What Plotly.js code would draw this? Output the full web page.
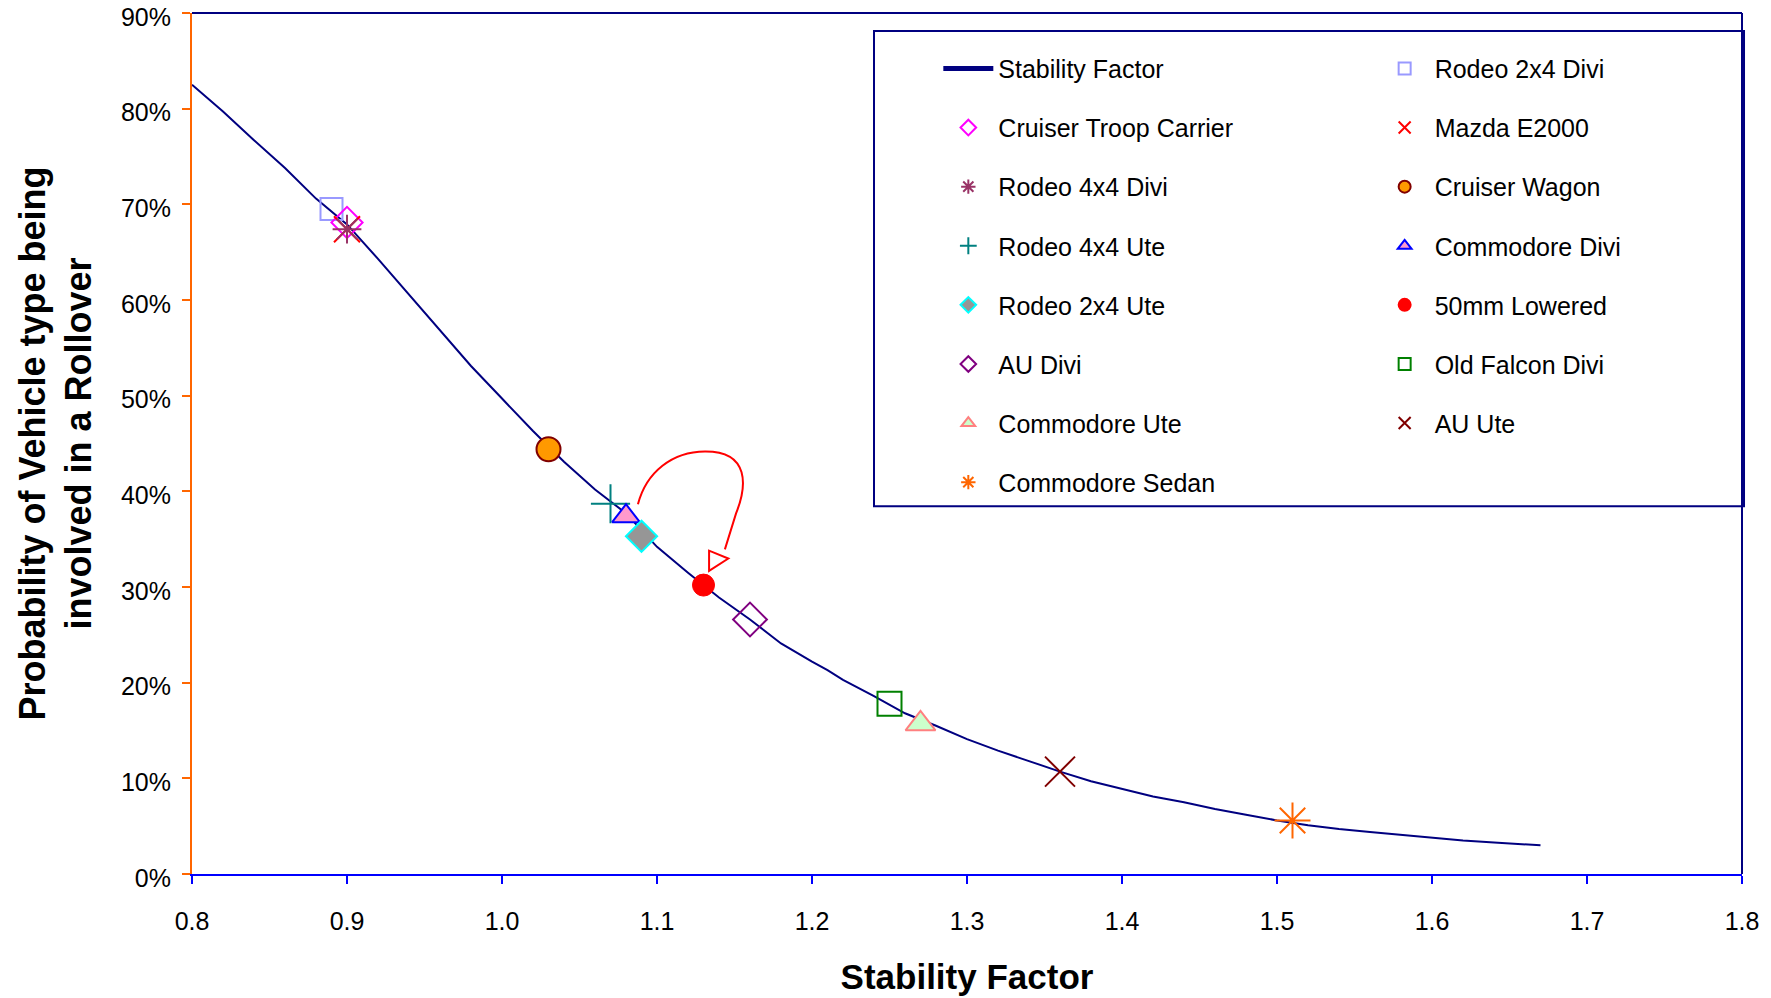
<!DOCTYPE html>
<html>
<head>
<meta charset="utf-8">
<script src="https://cdn.plot.ly/plotly-3.0.1.min.js"></script>
<style>html,body{margin:0;padding:0;background:#fff;}#chart{width:1771px;height:998px;}</style>
</head>
<body>
<div id="chart"></div>
<script>
// Stability factor curve
const curveX = [0.80,0.82,0.84,0.86,0.88,0.90,0.92,0.94,0.96,0.98,1.00,1.02,1.04,1.06,1.08,1.10,1.12,1.14,1.16,1.18,1.20,1.21,1.22,1.24,1.26,1.28,1.30,1.32,1.34,1.36,1.38,1.40,1.42,1.44,1.46,1.48,1.50,1.52,1.54,1.56,1.58,1.60,1.62,1.64,1.66,1.67];
const curveY = [0.825,0.797,0.767,0.738,0.706,0.679,0.643,0.606,0.569,0.531,0.497,0.463,0.431,0.402,0.377,0.342,0.315,0.289,0.266,0.241,0.222,0.213,0.203,0.186,0.168,0.155,0.141,0.129,0.118,0.107,0.097,0.089,0.081,0.075,0.068,0.062,0.056,0.051,0.047,0.044,0.041,0.038,0.035,0.033,0.031,0.030];

// Y tick values
const yTicks = [0, 0.1, 0.2, 0.3, 0.4, 0.5, 0.6, 0.7, 0.8, 0.9];
const yTickText = ["0%","10%","20%","30%","40%","50%","60%","70%","80%","90%"];

// Vehicles
const vehicleNames = ["Rodeo 2x4 Divi","Cruiser Troop Carrier","Mazda E2000","Rodeo 4x4 Divi","Cruiser Wagon","Rodeo 4x4 Ute","Commodore Divi","Rodeo 2x4 Ute","50mm Lowered","AU Divi","Old Falcon Divi","Commodore Ute","AU Ute","Commodore Sedan"];
const vehicleSF   = [0.89, 0.90, 0.90, 0.90, 1.03, 1.07, 1.08, 1.09, 1.13, 1.16, 1.25, 1.27, 1.36, 1.51];
const vehicleProb = [0.695,0.681,0.674,0.674,0.444,0.387,0.374,0.353,0.302,0.266,0.178,0.157,0.107,0.056];

// Red hand-drawn arrow: start, two cubic segments (control points), end of tail
const arrowX = [1.0877, 1.093, 1.110, 1.1314, 1.160, 1.158, 1.151, 1.1438];
const arrowY = [0.3864, 0.420, 0.442, 0.4417, 0.4417, 0.405, 0.377, 0.3393];
const headX = [1.1336, 1.1336, 1.146];
const headY = [0.3169, 0.338, 0.3298];

const styles = {
  "Rodeo 2x4 Divi":        {symbol:"square-open", size:22, color:"#9999FF", line:{color:"#9999FF", width:2}, legend:"legend2"},
  "Cruiser Troop Carrier": {symbol:"diamond-open", size:24, color:"#FF00FF", line:{color:"#FF00FF", width:2}, legend:"legend"},
  "Mazda E2000":           {symbol:"x-thin-open", size:26, color:"#FF0000", line:{color:"#FF0000", width:2}, legend:"legend2"},
  "Rodeo 4x4 Divi":        {symbol:"asterisk-open", size:24, color:"#993366", line:{color:"#993366", width:2}, legend:"legend"},
  "Cruiser Wagon":         {symbol:"circle", size:24, color:"#FF9900", line:{color:"#800000", width:2}, legend:"legend2"},
  "Rodeo 4x4 Ute":         {symbol:"cross-thin-open", size:28, color:"#008080", line:{color:"#008080", width:2}, legend:"legend"},
  "Commodore Divi":        {symbol:"triangle-up", size:24, color:"#FF99CC", line:{color:"#0000FF", width:2}, legend:"legend2"},
  "Rodeo 2x4 Ute":         {symbol:"diamond", size:24, color:"#969696", line:{color:"#00FFFF", width:2}, legend:"legend"},
  "50mm Lowered":          {symbol:"circle", size:22, color:"#FF0000", line:{color:"#FF0000", width:1}, legend:"legend2"},
  "AU Divi":               {symbol:"diamond-open", size:26, color:"#800080", line:{color:"#800080", width:2}, legend:"legend"},
  "Old Falcon Divi":       {symbol:"square-open", size:24, color:"#008000", line:{color:"#008000", width:2}, legend:"legend2"},
  "Commodore Ute":         {symbol:"triangle-up", size:26, color:"#CCFFCC", line:{color:"#FF8080", width:2}, legend:"legend"},
  "AU Ute":                {symbol:"x-thin-open", size:30, color:"#800000", line:{color:"#800000", width:2}, legend:"legend2"},
  "Commodore Sedan":       {symbol:"asterisk-open", size:30, color:"#FF6600", line:{color:"#FF6600", width:2}, legend:"legend"}
};

const traces = [{
  x: curveX, y: curveY, type: "scatter", mode: "lines", name: "Stability Factor",
  line: {color: "#000080", width: 2}, legend: "legend", legendgroup: "g0", legendrank: 1
}];
vehicleNames.forEach((n, i) => {
  const s = styles[n];
  traces.push({
    x: [vehicleSF[i]], y: [vehicleProb[i]], type: "scatter", mode: "markers", name: n,
    legend: s.legend, legendgroup: "g" + (i + 1), legendrank: i + 2,
    marker: {symbol: s.symbol, size: s.size, color: s.color, line: s.line}
  });
});

const pt = i => arrowX[i] + "," + arrowY[i];
const arrowPath = "M " + pt(0) + " C " + pt(1) + " " + pt(2) + " " + pt(3) +
                  " C " + pt(4) + " " + pt(5) + " " + pt(6) + " L " + pt(7);
const headPath = "M " + headX.map((x, i) => x + "," + headY[i]).join(" L ") + " Z";

const legendCommon = {
  font: {family: "Liberation Sans, Arial, sans-serif", size: 25, color: "#000"},
  bgcolor: "rgba(0,0,0,0)", borderwidth: 0, tracegroupgap: 23.6,
  itemsizing: "constant", itemwidth: 50, xanchor: "left", yanchor: "top", traceorder: "grouped"
};

const layout = {
  width: 1771, height: 998,
  margin: {l: 192, r: 29, t: 13, b: 124, pad: 0},
  paper_bgcolor: "#fff", plot_bgcolor: "#fff",
  font: {family: "Liberation Sans, Arial, sans-serif", size: 25, color: "#000"},
  xaxis: {
    range: [0.8, 1.8], dtick: 0.1, tick0: 0.8, tickformat: ".1f",
    showgrid: false, zeroline: false, showline: true, linecolor: "#0000FF", linewidth: 2,
    ticks: "outside", ticklen: 8, tickwidth: 2, tickcolor: "#0000FF",
    tickfont: {size: 25}, automargin: false, ticklabeloverflow: "allow", ticklabelstandoff: 16,
    title: {text: "Stability Factor", font: {size: 35, family: "Liberation Sans, Arial, sans-serif", weight: "bold"}, standoff: 30}
  },
  yaxis: {
    range: [0, 0.9], tickmode: "array", tickvals: yTicks, ticktext: yTickText,
    showgrid: false, zeroline: false, showline: true, linecolor: "#FF6600", linewidth: 2,
    ticks: "outside", ticklen: 8, tickwidth: 2, tickcolor: "#FF6600",
    tickfont: {size: 25}, automargin: false, ticklabeloverflow: "allow",
    ticklabelstandoff: 6, ticklabelshift: 4,
    title: {text: "Probability of Vehicle type being<br>involved in a Rollover", font: {size: 36, family: "Liberation Sans, Arial, sans-serif", weight: "bold"}, standoff: 18}
  },
  showlegend: true,
  legend: Object.assign({}, legendCommon, {x: 0.4815, y: 0.962}),
  legend2: Object.assign({}, legendCommon, {x: 0.763, y: 0.962}),
  shapes: [
    {type: "line", xref: "paper", yref: "paper", x0: 0, x1: 1, y0: 1, y1: 1, line: {color: "#000080", width: 2}},
    {type: "line", xref: "paper", yref: "paper", x0: 1, x1: 1, y0: 0, y1: 1, line: {color: "#000080", width: 2}},
    {type: "rect", xref: "paper", yref: "paper", x0: 0.44, x1: 1.0013, y0: 0.427, y1: 0.979, line: {color: "#000080", width: 2}, fillcolor: "rgba(0,0,0,0)"},
    {type: "path", xref: "x", yref: "y", path: arrowPath, line: {color: "#FF0000", width: 2}},
    {type: "path", xref: "x", yref: "y", path: headPath, line: {color: "#FF0000", width: 2}, fillcolor: "#FFFFFF"}
  ]
};

Plotly.newPlot("chart", traces, layout, {displayModeBar: false, staticPlot: true});
</script>
</body>
</html>
